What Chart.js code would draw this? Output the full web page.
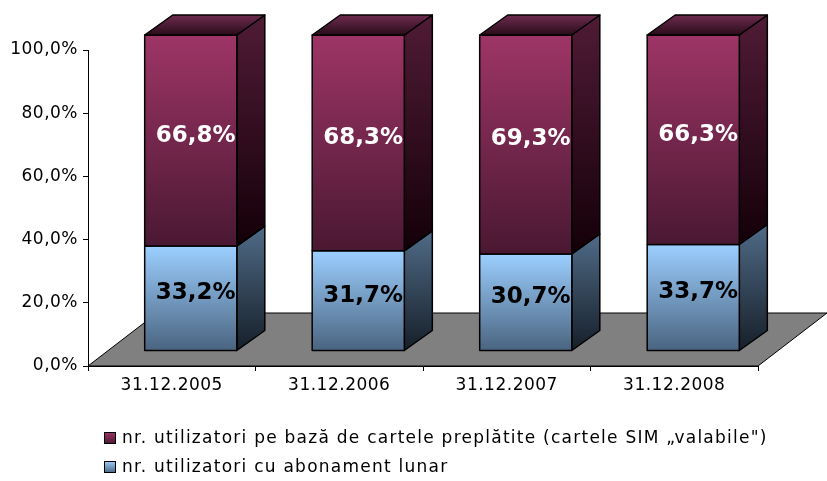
<!DOCTYPE html>
<html>
<head>
<meta charset="utf-8">
<script src="https://cdn.jsdelivr.net/npm/chart.js@4/dist/chart.umd.min.js"></script>
<style>
  html, body { margin: 0; padding: 0; background: #ffffff; }
  canvas { display: block; }
</style>
</head>
<body>
<canvas id="c" width="827" height="481"></canvas>
<script>
// ---- data ----
const categories = ['31.12.2005', '31.12.2006', '31.12.2007', '31.12.2008'];
const prepaidValues = [66.8, 68.3, 69.3, 66.3];
const subscriptionValues = [33.2, 31.7, 30.7, 33.7];
const prepaidName = 'nr. utilizatori pe bază de cartele preplătite (cartele SIM \u201Evalabile")';
const subscriptionName = 'nr. utilizatori cu abonament lunar';
const yTickValues = [0, 20, 40, 60, 80, 100];
const yTickLabels = ['0,0%', '20,0%', '40,0%', '60,0%', '80,0%', '100,0%'];

function fmtPct(v) { return v.toFixed(1).replace('.', ',') + '%'; }

const FONT = '"DejaVu Sans", Verdana, sans-serif';

// 3D geometry (style)
const OX = 19, OY = 15;      // front face offset from axis plane
const DX = 28, DY = 20;      // bar depth
const FX = 69, FY = 53;      // floor depth

const palette = {
  blue:   { front: ['#9ccfff', '#4a6480'], side: ['#506b87', '#161f29'], top: ['#6f8fb0', '#2a3a4c'], label: '#000000' },
  maroon: { front: ['#9e3566', '#4a1832'], side: ['#501b36', '#140008'], top: ['#6e2b4e', '#2a0c1a'], label: '#ffffff' }
};

function vgrad(ctx, y0, y1, c) {
  const g = ctx.createLinearGradient(0, y0, 0, y1);
  g.addColorStop(0, c[0]); g.addColorStop(1, c[1]);
  return g;
}

function poly(ctx, pts, fill) {
  ctx.beginPath();
  ctx.moveTo(pts[0][0], pts[0][1]);
  for (let i = 1; i < pts.length; i++) ctx.lineTo(pts[i][0], pts[i][1]);
  ctx.closePath();
  ctx.fillStyle = fill;
  ctx.fill();
  ctx.stroke();
}

const bar3d = {
  id: 'bar3d',
  beforeDraw(chart) {
    const { ctx, chartArea: a } = chart;
    ctx.letterSpacing = '0.5px';
    ctx.save();
    ctx.lineWidth = 1;
    ctx.strokeStyle = '#000';
    ctx.lineJoin = 'miter';
    poly(ctx, [[a.left, a.bottom], [a.right, a.bottom], [a.right + FX, a.bottom - FY], [a.left + FX, a.bottom - FY]], '#808080');
    ctx.restore();
  },
  afterDatasetsDraw(chart) {
    const ctx = chart.ctx;
    const nSets = chart.data.datasets.length;
    ctx.save();
    ctx.letterSpacing = '0px';
    ctx.strokeStyle = '#000';
    ctx.lineWidth = 1.5;
    ctx.lineJoin = 'round';
    const labels = [];
    for (let i = 0; i < chart.data.labels.length; i++) {
      for (let d = 0; d < nSets; d++) {
        const meta = chart.getDatasetMeta(d);
        const el = meta.data[i];
        const p = el.getProps(['x', 'y', 'base', 'width'], true);
        const col = palette[chart.data.datasets[d].colorKey];
        const l = p.x - p.width / 2 + OX, r = p.x + p.width / 2 + OX;
        const t = p.y - OY, b = p.base - OY;
        // side face
        poly(ctx, [[r, t], [r + DX, t - DY], [r + DX, b - DY], [r, b]], vgrad(ctx, t - DY, b, col.side));
        // front face
        poly(ctx, [[l, t], [r, t], [r, b], [l, b]], vgrad(ctx, t, b, col.front));
        // top face (only topmost)
        if (d === nSets - 1) {
          poly(ctx, [[l, t], [l + DX, t - DY], [r + DX, t - DY], [r, t]], vgrad(ctx, t - DY, t, col.top));
        }
        labels.push({ x: (l + r) / 2 + 5, y: (t + b) / 2 - 5, text: fmtPct(chart.data.datasets[d].data[i]), color: col.label });
      }
    }
    ctx.font = 'bold 23px ' + FONT;
    ctx.textAlign = 'center';
    ctx.textBaseline = 'middle';
    labels.forEach(lb => { ctx.fillStyle = lb.color; ctx.fillText(lb.text, lb.x, lb.y); });
    ctx.restore();
  },
  afterDraw(chart) {
    // legend
    const ctx = chart.ctx;
    const items = [
      { text: chart.data.datasets[1].label, col: palette.maroon.front, y: 438 },
      { text: chart.data.datasets[0].label, col: palette.blue.front, y: 467 }
    ];
    ctx.save();
    ctx.font = '17px ' + FONT;
    ctx.letterSpacing = '1.25px';
    ctx.textBaseline = 'middle';
    ctx.textAlign = 'left';
    items.forEach(it => {
      ctx.lineWidth = 1;
      ctx.strokeStyle = '#000';
      ctx.fillStyle = vgrad(ctx, it.y - 6, it.y + 6, it.col);
      ctx.fillRect(104.5, it.y - 5.5, 11, 11);
      ctx.strokeRect(104.5, it.y - 5.5, 11, 11);
      ctx.fillStyle = '#000';
      ctx.fillText(it.text, 122, it.y + 1);
    });
    ctx.restore();
  }
};

new Chart(document.getElementById('c'), {
  type: 'bar',
  data: {
    labels: categories,
    datasets: [
      { label: subscriptionName, data: subscriptionValues, colorKey: 'blue', backgroundColor: 'rgba(0,0,0,0)', borderWidth: 0 },
      { label: prepaidName, data: prepaidValues, colorKey: 'maroon', backgroundColor: 'rgba(0,0,0,0)', borderWidth: 0 }
    ]
  },
  options: {
    responsive: false,
    animation: false,
    events: [],
    layout: { padding: { top: 50, right: 69, left: 0, bottom: 0 } },
    datasets: { bar: { barPercentage: 1, categoryPercentage: 0.55 } },
    plugins: { legend: { display: false }, tooltip: { enabled: false } },
    scales: {
      x: {
        stacked: true,
        offset: true,
        grid: { display: true, drawOnChartArea: false, drawTicks: true, tickLength: 5, color: '#000', offset: true },
        border: { display: true, color: '#000', width: 1 },
        ticks: { color: '#000', font: { family: FONT, size: 17 }, padding: 4, maxRotation: 0, autoSkip: false },
        afterFit(s) { s.height = 115; }
      },
      y: {
        stacked: true,
        min: 0,
        max: 100,
        afterBuildTicks(s) { s.ticks = yTickValues.map(v => ({ value: v })); },
        grid: { display: true, drawOnChartArea: false, drawTicks: true, tickLength: 5, color: '#000' },
        border: { display: true, color: '#000', width: 1 },
        ticks: {
          color: '#000',
          font: { family: FONT, size: 17 },
          padding: 5,
          callback(v, idx) { return yTickLabels[yTickValues.indexOf(v)]; }
        },
        afterFit(s) { s.width = 88; }
      }
    }
  },
  plugins: [bar3d]
});
</script>
</body>
</html>
